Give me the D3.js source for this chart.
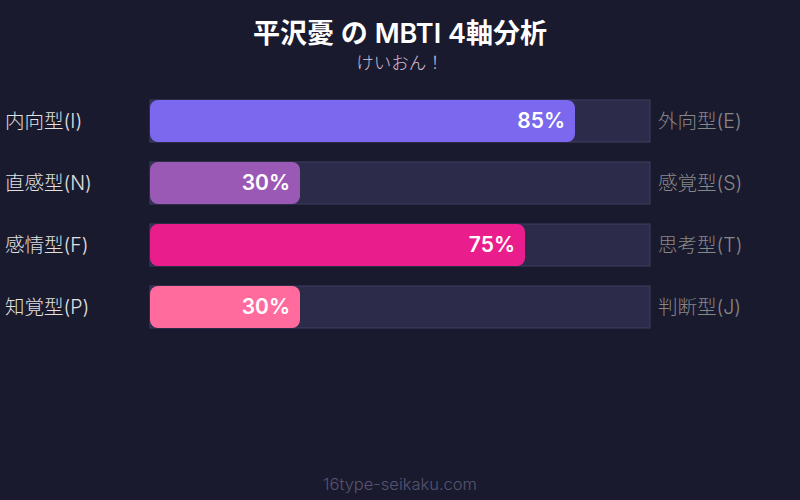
<!DOCTYPE html>
<html lang="ja">
<head>
    <meta charset="UTF-8">
    <title>平沢憂 の MBTI 4軸分析</title>
    <style>
        body { margin: 0; background-color: #1a1a2e; }
        svg { display: block; font-family: Inter, "Noto Sans CJK JP", sans-serif; }
    </style>
</head>
<body>
    <script src="https://d3js.org/d3.v7.min.js"></script>
    <script>
        const width = 800;
        const height = 500;

        const leftLabels = ["内向型(I)", "直感型(N)", "感情型(F)", "知覚型(P)"];
        const rightLabels = ["外向型(E)", "感覚型(S)", "思考型(T)", "判断型(J)"];
        const values = [85, 30, 75, 30];
        const colors = ["#7b68ee", "#9b59b6", "#e91e8c", "#ff6b9d"];

        const svg = d3.select("body")
            .append("svg")
            .attr("width", width)
            .attr("height", height);

        svg.append("rect")
            .attr("width", width)
            .attr("height", height)
            .attr("fill", "#1a1a2e");

        // title
        svg.append("text")
            .attr("x", width / 2)
            .attr("y", 43)
            .attr("text-anchor", "middle")
            .attr("fill", "#ffffff")
            .attr("font-size", 27)
            .attr("font-weight", 600)
            .text("平沢憂 の MBTI 4軸分析");

        svg.append("text")
            .attr("x", width / 2)
            .attr("y", 69)
            .attr("text-anchor", "middle")
            .attr("fill", "#d8bfd8")
            .attr("font-size", 17.5)
            .attr("font-weight", 300)
            .text("けいおん！");

        const x = d3.scaleLinear().domain([0, 100]).range([150, 650]);
        const y = d3.scaleBand()
            .domain(d3.range(values.length))
            .range([100, 328])
            .paddingInner(20 / 62)
            .paddingOuter(0);

        const rows = svg.selectAll(".row")
            .data(values)
            .enter()
            .append("g")
            .attr("class", "row");

        // track
        rows.append("rect")
            .attr("x", x(0))
            .attr("y", (d, i) => y(i))
            .attr("width", x(100) - x(0))
            .attr("height", y.bandwidth())
            .attr("fill", "#2d2b4a")
            .attr("stroke", "#3f3d62")
            .attr("stroke-width", 1);

        // bar
        rows.append("rect")
            .attr("x", x(0))
            .attr("y", (d, i) => y(i))
            .attr("width", d => x(d) - x(0))
            .attr("height", y.bandwidth())
            .attr("rx", 8)
            .attr("fill", (d, i) => colors[i]);

        // value text
        rows.append("text")
            .attr("x", d => x(d) - 10)
            .attr("y", (d, i) => y(i) + y.bandwidth() / 2)
            .attr("dy", ".35em")
            .attr("text-anchor", "end")
            .attr("fill", "#ffffff")
            .attr("font-size", 21)
            .attr("font-weight", 600)
            .text(d => d + "%");

        rows.append("text")
            .attr("x", 5)
            .attr("y", (d, i) => y(i) + y.bandwidth() / 2)
            .attr("dy", ".35em")
            .attr("fill", "#e0e0e0")
            .attr("font-size", 19.5)
            .attr("font-weight", 300)
            .text((d, i) => leftLabels[i]);

        rows.append("text")
            .attr("x", 658)
            .attr("y", (d, i) => y(i) + y.bandwidth() / 2)
            .attr("dy", ".35em")
            .attr("fill", "#888888")
            .attr("font-size", 19.5)
            .attr("font-weight", 300)
            .text((d, i) => rightLabels[i]);

        // footer
        svg.append("text")
            .attr("x", width / 2)
            .attr("y", 490)
            .attr("text-anchor", "middle")
            .attr("fill", "#555570")
            .attr("font-size", 16.5)
            .attr("font-weight", 300)
            .text("16type-seikaku.com");
    </script>
</body>
</html>
